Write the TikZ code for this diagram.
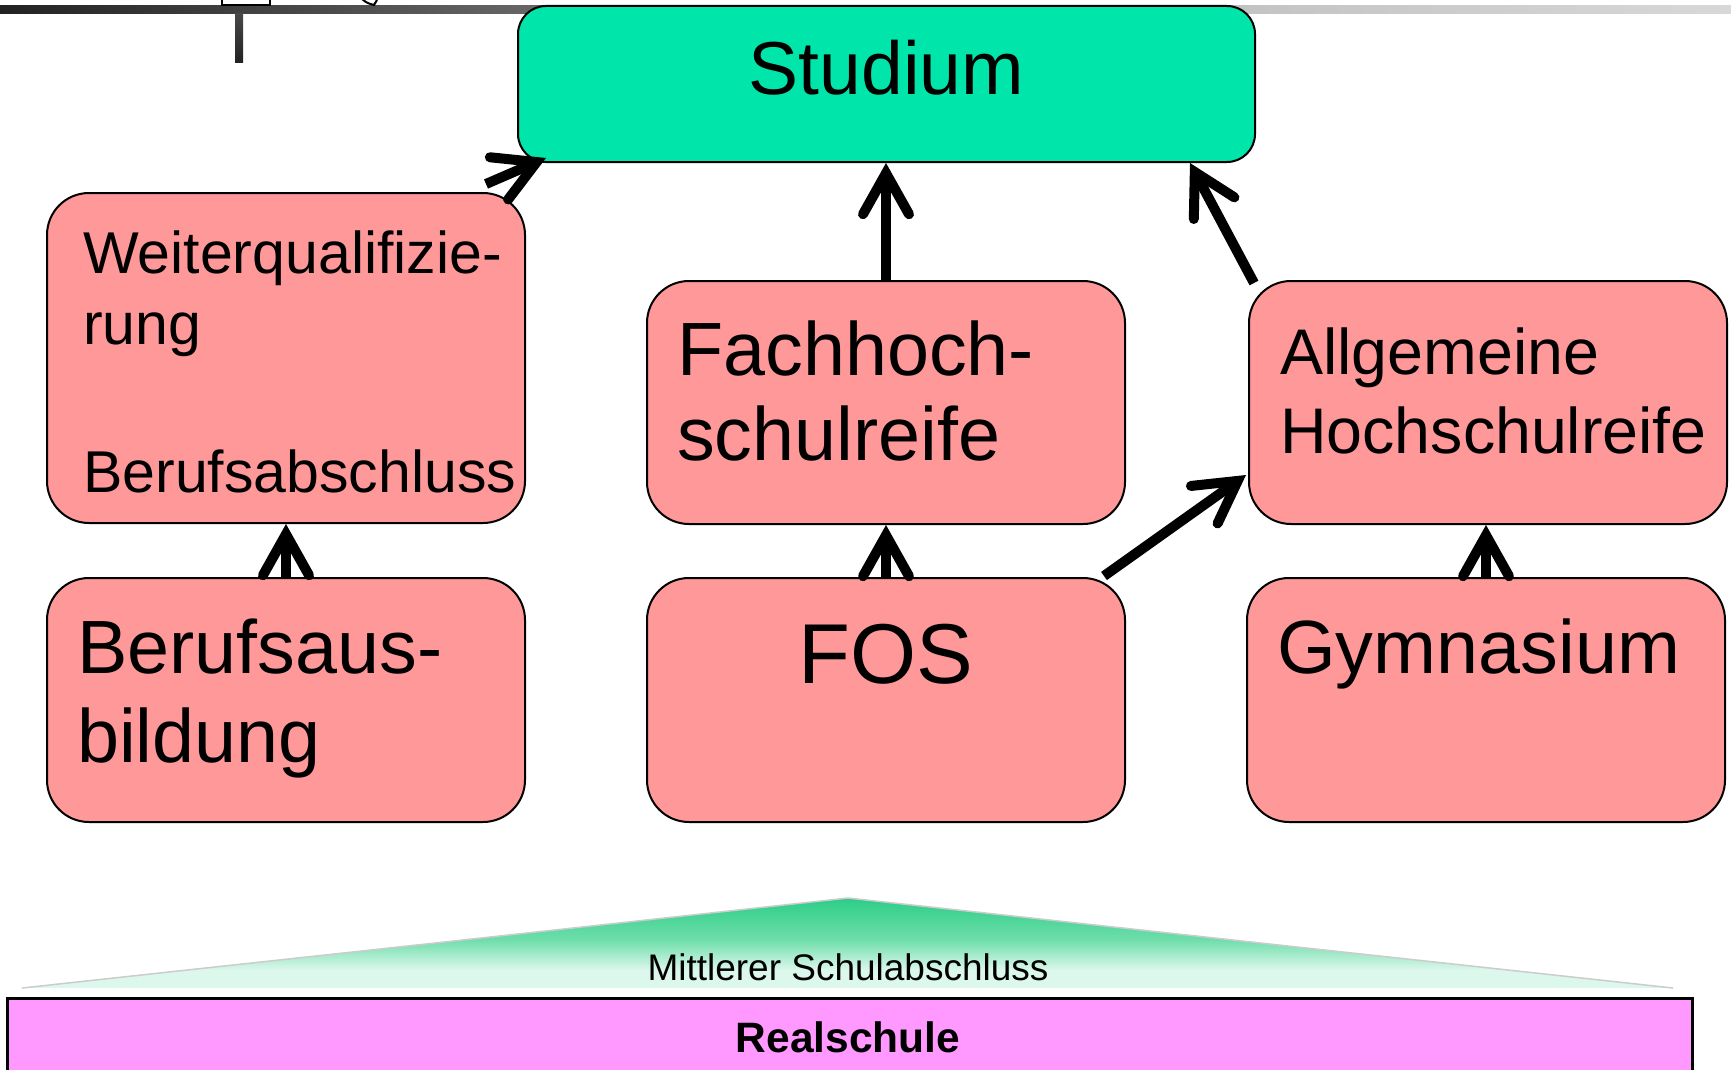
\documentclass[tikz,border=0pt]{standalone}
\usepackage{fontspec}
\setmainfont{Liberation Sans}
\usetikzlibrary{arrows.meta,calc}
\definecolor{studcol}{RGB}{0,229,170}
\definecolor{pinkbox}{RGB}{255,153,153}
\definecolor{realcol}{RGB}{255,153,255}
\definecolor{tl0}{RGB}{34,34,34}
\definecolor{tl1}{RGB}{100,100,100}
\definecolor{tl2}{RGB}{196,196,196}
\definecolor{tl3}{RGB}{216,216,216}
\definecolor{ticktop}{RGB}{72,72,72}
\definecolor{tickbot}{RGB}{34,34,34}
\definecolor{trigreen}{RGB}{45,205,135}
\definecolor{trimid}{RGB}{110,222,170}
\definecolor{tripale}{RGB}{220,247,236}
\pgfdeclarehorizontalshading{topline}{100bp}{color(0bp)=(tl0); color(25bp)=(tl0); color(40bp)=(tl1); color(61.25bp)=(tl2); color(75bp)=(tl3); color(100bp)=(tl3)}
\pgfdeclareverticalshading{trishade}{100bp}{color(0bp)=(tripale); color(25bp)=(tripale); color(35bp)=(tripale); color(52bp)=(trimid); color(75bp)=(trigreen); color(100bp)=(trigreen)}
\tikzset{
  pinkrect/.style={draw=black, line width=2pt, fill=pinkbox, rounded corners=42pt,
    inner sep=0pt, minimum width=478pt},
  studrect/.style={draw=black, line width=2pt, fill=studcol, rounded corners=28pt,
    inner sep=0pt, minimum width=737pt, minimum height=156pt},
  txt/.style={anchor=base west, inner sep=0pt, text=black},
  ctxt/.style={anchor=base, inner sep=0pt, text=black},
  fbig/.style={font={\fontsize{75.5}{90}\selectfont}},
  fmed/.style={font={\fontsize{64.5}{79}\selectfont}},
  fsmall/.style={font={\fontsize{59}{71}\selectfont}},
  conn/.style={line width=10pt, draw=black,
    -{Straight Barb[length=41pt, width=46pt, line cap=round, line join=miter]}},
}
\begin{document}
\begin{tikzpicture}[x=1pt,y=-1pt]
\useasboundingbox (0,0) rectangle (1731,1070);
% top decorations
\shade[shading=topline] (0,6) rectangle (1731,14);
\shade[top color=ticktop, bottom color=tickbot] (235,14) rectangle (243,63);
\draw[line width=1.5pt, fill=white] (222,-6) rectangle (270,5);
\draw[line width=2pt] (362,-1) .. controls (367,3) .. (374,5) -- (377,0);
% boxes
\node[studrect] (stud) at (886.5,84) {};
\node[ctxt, font={\fontsize{75}{90}\selectfont}] (stud-t) at (886.5,95) {Studium};

\node[pinkrect, minimum height=330pt] (weiter) at (286,358) {};
\node[txt, fsmall] (weiter-a) at (83,273) {Weiterqualifizie-};
\node[txt, fsmall] (weiter-b) at (83,344) {rung};
\node[txt, fsmall] (weiter-c) at (83,492) {Berufsabschluss};

\node[pinkrect, minimum height=243pt] (fhr) at (886,402.5) {};
\node[txt, fbig] (fhr-a) at (677,375) {Fachhoch-};
\node[txt, fbig] (fhr-b) at (677,460) {schulreife};

\node[pinkrect, minimum height=243pt] (allg) at (1488,402.5) {};
\node[txt, fmed] (allg-a) at (1280,374) {Allgemeine};
\node[txt, fmed] (allg-b) at (1280,453) {Hochschulreife};

\node[pinkrect, minimum height=244pt] (bausb) at (286,700) {};
\node[txt, fbig] (bausb-a) at (77,673) {Berufsaus-};
\node[txt, fbig] (bausb-b) at (77,762) {bildung};

\node[pinkrect, minimum height=244pt] (fos) at (886,700) {};
\node[ctxt, font={\fontsize{85}{100}\selectfont}] (fos-t) at (886,683) {FOS};

\node[pinkrect, minimum height=244pt] (gym) at (1486,700) {};
\node[txt, fbig] (gym-t) at (1277,673) {Gymnasium};

% connectors
\draw[conn] ($(weiter.north east)+(-40,-8)$) -- ($(stud.south west)+(29,-5)$);
\draw[conn] (fhr.north) -- (fhr.north |- stud.south);
\draw[conn] ($(allg.north west)+(6,3)$) -- ($(stud.south east)+(-66,0)$);
\draw[conn] (bausb.north) -- (bausb.north |- weiter.south);
\draw[conn] (fos.north) -- (fhr.south);
\draw[conn] ($(fos.north east)+(-22,-1)$) -- ($(allg.south west)+(-2,-50)$);
\draw[conn] (gym.north) -- (gym.north |- allg.south);

% bottom
\shade[shading=trishade] (22,988) -- (848,898) -- (1673,988) -- cycle;
\draw[gray!40, line width=1.5pt] (22,988) -- (848,898) -- (1673,988);
\node[ctxt, font={\fontsize{37}{44}\selectfont}] (mittl) at (848,980) {Mittlerer Schulabschluss};
\node[draw=black, line width=3pt, fill=realcol, inner sep=0pt, minimum width=1685pt,
  minimum height=90pt, anchor=north west] (realbox) at (6,997) {};
\node[ctxt, font={\fontsize{42.5}{50}\selectfont\bfseries}] (real) at (848,1052) {Realschule};
\end{tikzpicture}
\end{document}
